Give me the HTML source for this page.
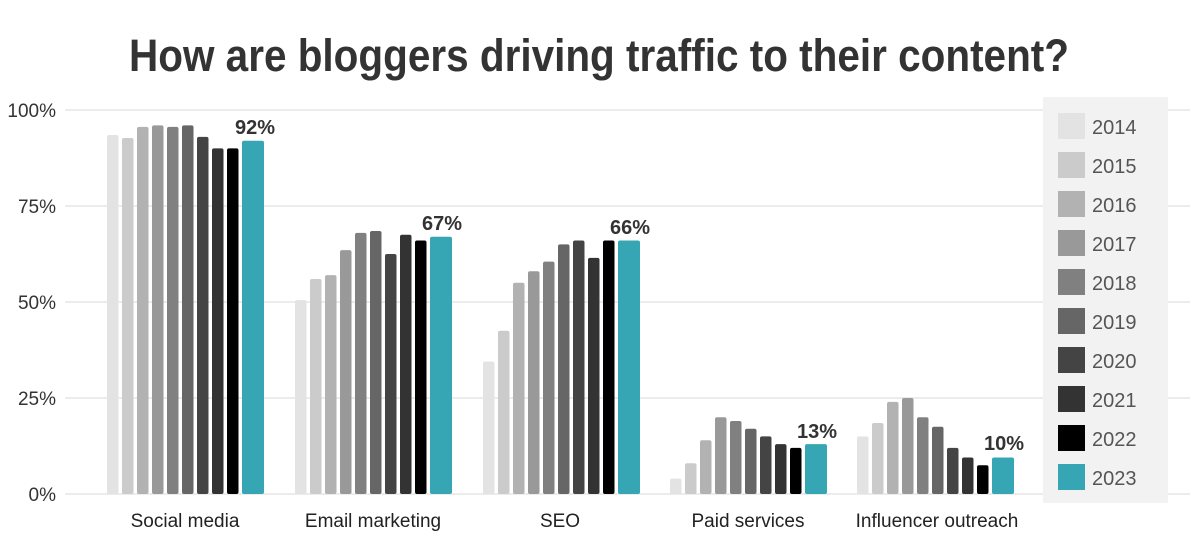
<!DOCTYPE html>
<html><head><meta charset="utf-8"><style>
html,body{margin:0;padding:0;background:#fff;}
svg{display:block;font-family:"Liberation Sans",sans-serif;}
</style></head><body>
<svg id="s" width="1198" height="544" viewBox="0 0 1198 544" xmlns="http://www.w3.org/2000/svg">
<rect width="1198" height="544" fill="#fff"/>
<text x="599" y="71" text-anchor="middle" font-size="45" font-weight="bold" fill="#333" textLength="940" lengthAdjust="spacingAndGlyphs">How are bloggers driving traffic to their content?</text>
<g stroke="#e6e6e6" stroke-width="1.5">
<line x1="65" y1="110" x2="1190" y2="110"/>
<line x1="65" y1="206" x2="1190" y2="206"/>
<line x1="65" y1="302" x2="1190" y2="302"/>
<line x1="65" y1="398" x2="1190" y2="398"/>
<line x1="65" y1="494" x2="1190" y2="494"/>
</g>
<g font-size="19" fill="#333" text-anchor="end">
<text x="56" y="117">100%</text>
<text x="56" y="213">75%</text>
<text x="56" y="309">50%</text>
<text x="56" y="405">25%</text>
<text x="56" y="501">0%</text>
</g>
<rect x="1043" y="97" width="125" height="406" fill="#f2f2f2"/>
<g id="bars"></g>
<g font-size="20" font-weight="bold" fill="#333" text-anchor="middle">
<text x="255" y="134">92%</text>
<text x="442" y="230">67%</text>
<text x="630" y="234">66%</text>
<text x="817" y="438">13%</text>
<text x="1004" y="450">10%</text>
</g>
<g font-size="19" fill="#222" text-anchor="middle">
<text x="185" y="527">Social media</text>
<text x="373" y="527">Email marketing</text>
<text x="560" y="527">SEO</text>
<text x="748" y="527">Paid services</text>
<text x="937" y="527">Influencer outreach</text>
</g>
<g font-size="20" fill="#555">
<text x="1092" y="134">2014</text>
<text x="1092" y="173">2015</text>
<text x="1092" y="212">2016</text>
<text x="1092" y="251">2017</text>
<text x="1092" y="290">2018</text>
<text x="1092" y="329">2019</text>
<text x="1092" y="368">2020</text>
<text x="1092" y="407">2021</text>
<text x="1092" y="446">2022</text>
<text x="1092" y="485">2023</text>
</g>
</svg>
<script>
var cols=["#e3e3e3","#cbcbcb","#b2b2b2","#999","#808080","#666","#444","#333","#000","#37a6b4"];
var data=[[93.5,92.7,95.6,96,95.6,96,93,90,90,92],
[50.5,56,57,63.5,68,68.5,62.5,67.5,66,67],
[34.5,42.5,55,58,60.5,65,66,61.5,66,66],
[4,8,14,20,19,17,15,13,12,13],
[15,18.5,24,25,20,17.5,12,9.5,7.5,9.5]];
var starts=[107,295,483,670,857];
var g=document.getElementById("bars"),h="";
data.forEach(function(d,gi){d.forEach(function(v,i){
var x=starts[gi]+i*15,w=i==9?22:11.5,ht=v*3.84,y=494-ht;
h+='<rect x="'+x+'" y="'+y+'" width="'+w+'" height="'+ht+'" rx="2" fill="'+cols[i]+'"/>';});});
for(var i=0;i<10;i++)h+='<rect x="1058" y="'+(113+i*39)+'" width="27" height="26" fill="'+cols[i]+'"/>';
g.innerHTML=h;
</script>
</body></html>
